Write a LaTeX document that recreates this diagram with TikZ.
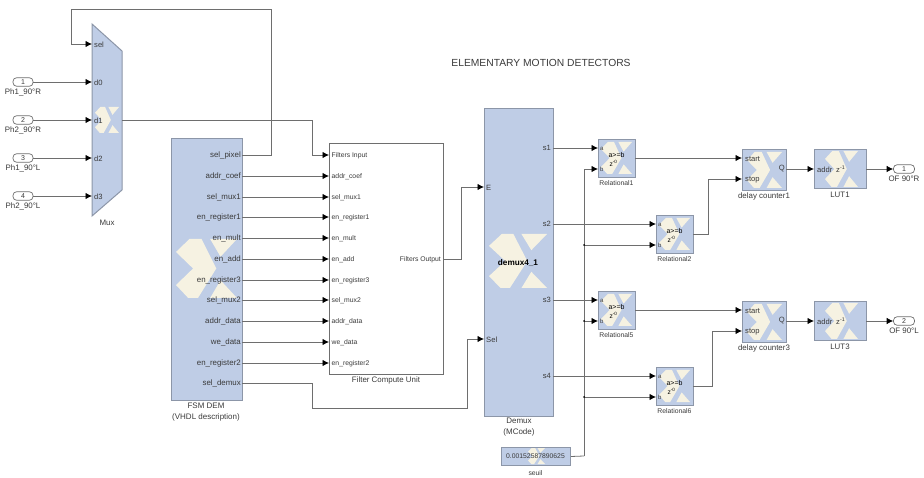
\documentclass[tikz,border=0pt]{standalone}
\usepackage{fontspec}
\setmainfont{Liberation Sans}
\usepackage{amstext}
\usetikzlibrary{arrows.meta}
\definecolor{blockfill}{HTML}{BFCDE6}
\definecolor{blockline}{HTML}{8C96A8}
\definecolor{logofill}{HTML}{F6F2E2}
\definecolor{wirecol}{HTML}{6E6E6E}
\definecolor{txtcol}{HTML}{3A3A3A}
\tikzset{
  blk/.style={draw=blockline,fill=blockfill,line width=1pt,inner sep=0pt,anchor=north west},
  wire/.style={draw=wirecol,line width=.8pt},
  arrw/.style={wire,-{Latex[length=6.5pt,width=6.5pt,color=black]}},
  lbl/.style={inner sep=0pt,text=txtcol,font=\fontsize{7.9}{9}\selectfont},
  plbl/.style={lbl,font=\fontsize{7.6}{9}\selectfont},
  small/.style={lbl,font=\fontsize{6.8}{8}\selectfont},
  caption/.style={lbl,align=center,font=\fontsize{8}{10.5}\selectfont},
  term/.style={draw=wirecol,fill=white,rounded corners=3.6pt,line width=.7pt,inner sep=0pt,minimum width=20pt,minimum height=8.5pt,text=txtcol,font=\fontsize{7}{7}\selectfont},
  dotj/.style={circle,fill=black,inner sep=0pt,minimum size=2pt},
}
% logo: #1 left, #2 top, #3 width, #4 height
\newcommand{\xlogo}[4]{%
  \begin{scope}[shift={(#1,#2)},x=#3pt,y=-#4pt]
    \fill[logofill] (0,.22)--(.22,0)--(.42,0)--(.66,.5)--(.36,1)--(.2,1)--(0,.78)--(.28,.5)--cycle;
    \fill[logofill] (.56,0)--(1,0)--(.73,.3)--cycle;
    \fill[logofill] (.56,1)--(1,1)--(.73,.7)--cycle;
  \end{scope}}
\newcommand{\relblock}[4]{% name, x, y, caption
  \node[blk,minimum width=37pt,minimum height=38pt] (#1) at (#2,#3) {};
  \xlogo{#2+3}{#3+3}{31}{32}
  \node[lbl,font=\fontsize{6}{6}\selectfont,anchor=west] (#1la) at (#2+2,#3+9.5) {a};
  \node[lbl,font=\fontsize{6}{6}\selectfont,anchor=west] (#1lb) at (#2+2,#3+30) {b};
  \node[lbl,font=\fontsize{7}{7}\selectfont,text=black] (#1t) at (#2+18.5,#3+16) {a>=b};
  \node[lbl,font=\fontsize{6.6}{7}\selectfont,text=black] (#1z) at (#2+15.5,#3+24) {z$^{\text{-0}}$};
  \node[small,anchor=north] (#1c) at (#2+18.5,#3+41.5) {#4};
  \coordinate (#1a) at (#2,#3+9);
  \coordinate (#1b) at (#2,#3+30);
  \coordinate (#1o) at (#2+37,#3+19);
}
\begin{document}
\begin{tikzpicture}[x=1pt,y=-1pt]
\useasboundingbox (0,0) rectangle (924,478);
\node[lbl,font=\fontsize{10.3}{12}\selectfont,text=txtcol] (title) at (541,63) {ELEMENTARY MOTION DETECTORS};

% Mux
\node[inner sep=0pt,minimum size=0pt] (muxc) at (107,120) {};
\filldraw[draw=blockline,fill=blockfill,line width=1pt] (92,24)--(122,51)--(122,190)--(92,216)--cycle;
\xlogo{95}{107}{24}{26}
\foreach \n/\y in {sel/44,d0/82,d1/120,d2/158,d3/196}{
  \node[plbl,anchor=west] (mux\n) at (94,\y+1) {\n};
  \coordinate (muxp\n) at (92,\y);
}
\coordinate (muxout) at (122,120);
\node[lbl] (muxcap) at (107,223) {Mux};

% inports
\foreach \i/\y/\t in {1/82/Ph1\_90°R,2/120/Ph2\_90°R,3/158/Ph1\_90°L,4/196/Ph2\_90°L}{
  \node[term] (in\i) at (23,\y) {\i};
  \node[lbl,anchor=north] (inl\i) at (23,\y+7) {\t};
}
\foreach \i/\n in {1/d0,2/d1,3/d2,4/d3}{ \draw[arrw] (in\i.east) -- (muxp\n); }

% FSM
\node[blk,minimum width=71pt,minimum height=262pt] (fsm) at (171,138) {};
\xlogo{176}{239}{61}{59}
\node[caption,anchor=north] (fsmcap) at (206,403) {FSM DEM\\(VHDL description)};

% Filter Compute Unit
\node[draw=wirecol,fill=white,line width=.9pt,inner sep=0pt,minimum width=114pt,minimum height=231pt,anchor=north west] (fcu) at (329,143) {};
\node[lbl,anchor=north] (fcucap) at (386,377) {Filter Compute Unit};
\node[small,anchor=east] (fcuout) at (441,259.5) {Filters Output};

\foreach \k/\y/\a/\b in {
  1/155/sel\_pixel/Filters Input,
  2/176/addr\_coef/addr\_coef,
  3/197/sel\_mux1/sel\_mux1,
  4/217/en\_register1/en\_register1,
  5/238/en\_mult/en\_mult,
  6/259/en\_add/en\_add,
  7/280/en\_register3/en\_register3,
  8/300/sel\_mux2/sel\_mux2,
  9/321/addr\_data/addr\_data,
  10/342/we\_data/we\_data,
  11/363/en\_register2/en\_register2}{
  \node[lbl,anchor=east] (fs\k) at (241,\y) {\a};
  \node[small,anchor=west] (fc\k) at (331.5,\y+.5) {\b};
  \coordinate (fsp\k) at (242,\y);
  \coordinate (fcp\k) at (329,\y);
}
\node[lbl,anchor=east] (fs12) at (241,383) {sel\_demux};
\coordinate (fsp12) at (242,383);
\foreach \k in {2,...,11}{ \draw[arrw] (fsp\k) -- (fcp\k); }

% Demux
\node[blk,minimum width=69pt,minimum height=308pt] (dem) at (484,108) {};
\xlogo{489}{234}{58}{54}
\node[lbl,font=\fontsize{8.2}{9}\bfseries\selectfont,text=black] (demname) at (518,263) {demux4\_1};
\node[caption,anchor=north] (demcap) at (519,418) {Demux\\(MCode)};
\node[plbl,anchor=west] (demE) at (486,187.5) {E};
\node[plbl,anchor=west] (demS) at (486,339.5) {Sel};
\coordinate (demEp) at (484,187);
\coordinate (demSp) at (484,339);
\foreach \n/\y in {1/148,2/224,3/300,4/376}{
  \node[plbl,anchor=east] (ds\n) at (551,\y) {s\n};
  \coordinate (dsp\n) at (553,\y);
}

% Constant
\node[blk,minimum width=69pt,minimum height=18pt] (seuil) at (501,447) {};
\xlogo{528}{448}{17}{16}
\node[small,font=\fontsize{6.8}{8}\selectfont] (seuilv) at (535.5,456) {0.00152587890625};
\node[small,anchor=north] (seuilc) at (535.5,470.5) {seuil};

% Relationals
\relblock{ra}{598}{139}{Relational1}
\relblock{rb}{656}{215}{Relational2}
\relblock{rc}{598}{291}{Relational5}
\relblock{rd}{656}{367}{Relational6}

% delay counters and LUTs
\foreach \nm/\y/\dc/\lc/\o/\ol/\p in {1/149/delay counter1/LUT1/1/OF 90°R/169,3/301/delay counter3/LUT3/2/OF 90°L/321}{
  \node[blk,minimum width=44pt,minimum height=41pt] (dc\nm) at (742,\y) {};
  \xlogo{747}{\y+3}{35}{36}
  \node[plbl,anchor=west] (dcs\nm) at (745,\y+10) {start};
  \node[plbl,anchor=west] (dcp\nm) at (745,\y+31) {stop};
  \node[plbl,anchor=east] (dcq\nm) at (785,\y+20) {Q};
  \node[lbl,anchor=north] (dcc\nm) at (764,\y+44) {\dc};
  \coordinate (dcstart\nm) at (742,\y+9);
  \coordinate (dcstop\nm) at (742,\y+30);
  \coordinate (dcout\nm) at (786,\p);
  \node[blk,minimum width=52pt,minimum height=39pt] (lut\nm) at (814,\y) {};
  \xlogo{825}{\y+2}{33}{36}
  \node[plbl,anchor=west] (luta\nm) at (817,\p+.5) {addr};
  \node[plbl,anchor=west] (lutz\nm) at (836,\p+.5) {z$^{\text{-1}}$};
  \node[lbl,anchor=north] (lutc\nm) at (840,\y+43) {\lc};
  \coordinate (lutin\nm) at (814,\p);
  \coordinate (lutout\nm) at (866,\p);
  \node[term,minimum width=21pt] (out\nm) at (904,\p) {\o};
  \node[lbl,anchor=north] (outl\nm) at (904,\p+7) {\ol};
  \draw[arrw] (dcout\nm) -- (lutin\nm);
  \draw[arrw] (lutout\nm) -- (out\nm.west);
}

% wires
\draw[arrw] (fsp1) -- ++(29,0) |- (71,9) |- (muxpsel);
\draw[arrw] (muxout) -| (312,155) -- (fcp1);
\draw[arrw] (fcuout.east -| fcu.east) -- ++(17,0) |- (demEp);
\draw[arrw] (fsp12) -- ++(70,0) |- (467,408) |- (demSp);
\foreach \n/\r in {1/ra,3/rc}{ \draw[arrw] (dsp\n) -- (\r a); }
\foreach \n/\r in {2/rb,4/rd}{ \draw[arrw] (dsp\n) -- (\r a); }
\coordinate (bus) at (584,456);
\draw[wire] (seuil.east) -- (bus);
\draw[arrw] (bus) |- (rab);
\foreach \r in {rb,rc,rd}{
  \draw[arrw] (bus |- \r b) -- (\r b);
  \node[dotj] at (bus |- \r b) {};
}
\draw[arrw] (rao) -- (dcstart1);
\draw[arrw] (rbo) -| (708,179) -- (dcstop1);
\draw[arrw] (rco) -- (dcstart3);
\draw[arrw] (rdo) -| (712,331) -- (dcstop3);
\end{tikzpicture}
\end{document}
